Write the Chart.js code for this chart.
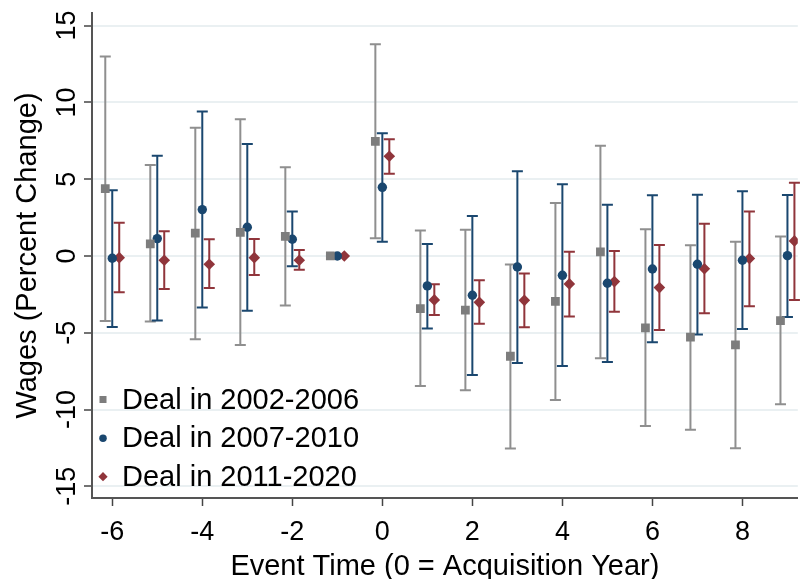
<!DOCTYPE html>
<html>
<head>
<meta charset="utf-8">
<script src="https://cdn.jsdelivr.net/npm/chart.js@4.4.1/dist/chart.umd.min.js"></script>
<style>
  html, body { margin: 0; padding: 0; background: #ffffff; }
  canvas { display: block; }
</style>
</head>
<body>
<canvas id="chart" width="804" height="579"></canvas>
<script>
// Event-study estimates of wage changes around the acquisition year, by deal cohort.
const eventTime = [-6, -5, -4, -3, -2, -1, 0, 1, 2, 3, 4, 5, 6, 7, 8, 9];
const xTickValues = [-6, -4, -2, 0, 2, 4, 6, 8];
const yTickValues = [-15, -10, -5, 0, 5, 10, 15];
const seriesNames = ['Deal in 2002-2006', 'Deal in 2007-2010', 'Deal in 2011-2020'];

// Deals in 2002-2006: point estimate, lower and upper confidence bound
const est2002 = [4.38, 0.78, 1.48, 1.54, 1.28, 0, 7.46, -3.43, -3.52, -6.53, -2.95, 0.26, -4.69, -5.29, -5.79, -4.21];
const lo2002  = [-4.23, -4.27, -5.43, -5.79, -3.23, 0, 1.15, -8.46, -8.75, -12.54, -9.38, -6.66, -11.07, -11.31, -12.52, -9.66];
const hi2002  = [12.98, 5.92, 8.35, 8.90, 5.77, 0, 13.78, 1.65, 1.71, -0.56, 3.45, 7.18, 1.74, 0.70, 0.93, 1.26];

// Deals in 2007-2010
const est2007 = [-0.15, 1.13, 3.02, 1.87, 1.09, 0, 4.47, -1.95, -2.56, -0.72, -1.26, -1.78, -0.85, -0.54, -0.28, 0.02];
const lo2007  = [-4.62, -4.21, -3.36, -3.56, -0.67, 0, 0.93, -4.73, -7.75, -6.97, -7.16, -6.90, -5.62, -5.12, -4.75, -3.97];
const hi2007  = [4.28, 6.53, 9.40, 7.29, 2.89, 0, 7.99, 0.78, 2.60, 5.51, 4.67, 3.34, 3.95, 3.99, 4.21, 3.97];

// Deals in 2011-2020
const est2011 = [-0.11, -0.28, -0.54, -0.11, -0.28, 0, 6.49, -2.86, -3.02, -2.89, -1.82, -1.67, -2.06, -0.83, -0.17, 0.98];
const lo2011  = [-2.37, -2.15, -2.08, -1.24, -0.89, 0, 5.36, -3.84, -4.41, -4.64, -3.95, -3.63, -4.82, -3.73, -3.27, -2.86];
const hi2011  = [2.17, 1.61, 1.09, 1.11, 0.39, 0, 7.60, -1.84, -1.58, -1.15, 0.28, 0.33, 0.72, 2.10, 2.89, 4.77];

const FONT = '"Liberation Sans", Arial, Helvetica, sans-serif';
const AXIS_COLOR = '#555555';
const TICK_COLOR = '#444444';
const DODGE = 0.155;   // horizontal offset between cohorts at each event time

const cohorts = [
  { name: seriesNames[0], est: est2002, lo: lo2002, hi: hi2002, shift: -DODGE,
    marker: '#7d7d7d', bar: '#8f8f8f', style: 'rect', radius: 6.2 },
  { name: seriesNames[1], est: est2007, lo: lo2007, hi: hi2007, shift: 0,
    marker: '#1a476f', bar: '#1a476f', style: 'circle', radius: 4.7 },
  { name: seriesNames[2], est: est2011, lo: lo2011, hi: hi2011, shift: DODGE,
    marker: '#90353b', bar: '#90353b', style: 'rectRot', radius: 5.8 }
];

Chart.defaults.font.family = FONT;
Chart.defaults.color = '#000000';

// Confidence intervals with end caps, drawn under the markers.
const errorBars = {
  id: 'errorBars',
  beforeDatasetsDraw(chart) {
    const { ctx, scales: { x, y } } = chart;
    ctx.save();
    ctx.lineWidth = 2;
    ctx.lineCap = 'butt';
    chart.data.datasets.forEach(ds => {
      ctx.strokeStyle = ds.barColor;
      ds.data.forEach(p => {
        if (p.lo === p.hi) return;
        const px = x.getPixelForValue(p.x);
        const yl = y.getPixelForValue(p.lo);
        const yh = y.getPixelForValue(p.hi);
        const cap = 5.5;
        ctx.beginPath();
        ctx.moveTo(px, yl); ctx.lineTo(px, yh);
        ctx.moveTo(px - cap, yl); ctx.lineTo(px + cap, yl);
        ctx.moveTo(px - cap, yh); ctx.lineTo(px + cap, yh);
        ctx.stroke();
      });
    });
    ctx.restore();
  }
};

function drawMarker(ctx, style, r, cx, cy) {
  ctx.beginPath();
  if (style === 'rect') {
    const h = r * Math.SQRT1_2;
    ctx.rect(cx - h, cy - h, 2 * h, 2 * h);
  } else if (style === 'rectRot') {
    ctx.moveTo(cx - r, cy); ctx.lineTo(cx, cy - r);
    ctx.lineTo(cx + r, cy); ctx.lineTo(cx, cy + r);
    ctx.closePath();
  } else {
    ctx.arc(cx, cy, r, 0, Math.PI * 2);
  }
  ctx.fill();
}

// Vertical y tick labels and the in-plot legend.
const decorations = {
  id: 'decorations',
  afterDraw(chart) {
    const { ctx, chartArea, scales: { y } } = chart;
    ctx.save();
    ctx.fillStyle = '#000000';
    ctx.font = '27px ' + FONT;
    ctx.textAlign = 'center';
    ctx.textBaseline = 'alphabetic';
    y.ticks.forEach(t => {
      const py = y.getPixelForValue(t.value);
      ctx.save();
      ctx.translate(y.right - 17.5, py);
      ctx.rotate(-Math.PI / 2);
      ctx.fillText(String(t.value), 0, 0);
      ctx.restore();
    });

    // legend, stacked in the lower-left corner of the plot
    const rows = [-98.5, -59.8, -21.3];
    ctx.font = '29px ' + FONT;
    ctx.textAlign = 'left';
    ctx.textBaseline = 'middle';
    cohorts.forEach((c, i) => {
      const cy = chartArea.bottom + rows[i];
      ctx.fillStyle = c.marker;
      drawMarker(ctx, c.style, c.radius * 0.8, chartArea.left + 11, cy);
      ctx.fillStyle = '#000000';
      ctx.fillText(c.name, chartArea.left + 30, cy + 1);
    });
    ctx.restore();
  }
};

const datasets = cohorts.map(c => ({
  type: 'scatter',
  label: c.name,
  data: eventTime.map((t, i) => ({ x: t + c.shift, y: c.est[i], lo: c.lo[i], hi: c.hi[i] })),
  pointStyle: c.style,
  pointRadius: c.radius,
  pointHoverRadius: c.radius,
  pointBackgroundColor: c.marker,
  pointBorderWidth: 0,
  showLine: false,
  barColor: c.bar
}));

new Chart(document.getElementById('chart'), {
  type: 'scatter',
  data: { datasets },
  plugins: [errorBars, decorations],
  options: {
    responsive: false,
    animation: false,
    devicePixelRatio: 1,
    layout: { padding: { top: 13, left: 0, right: 0, bottom: 0 } },
    plugins: { legend: { display: false }, tooltip: { enabled: false } },
    scales: {
      x: {
        type: 'linear',
        min: -6.45,
        max: 9.23,
        afterBuildTicks: s => { s.ticks = xTickValues.map(v => ({ value: v })); },
        ticks: {
          font: { size: 27, lineHeight: 1 },
          color: '#000000',
          padding: 13,
          maxRotation: 0,
          autoSkip: false,
          callback: v => String(v)
        },
        grid: { drawOnChartArea: false, drawTicks: true, tickLength: 8, tickColor: TICK_COLOR, tickWidth: 1.5 },
        border: { display: true, color: AXIS_COLOR, width: 2 },
        title: {
          display: true,
          text: 'Event Time (0 = Acquisition Year)',
          color: '#000000',
          font: { size: 29, lineHeight: 1 },
          padding: { top: -7, bottom: -2 }
        }
      },
      y: {
        type: 'linear',
        min: -15.76,
        max: 15.82,
        afterBuildTicks: s => { s.ticks = yTickValues.map(v => ({ value: v })); },
        ticks: { display: false },
        grid: { color: '#eaf0f2', lineWidth: 2, drawTicks: true, tickLength: 8, tickColor: TICK_COLOR, tickWidth: 1.5 },
        border: { display: true, color: AXIS_COLOR, width: 2 },
        title: {
          display: true,
          text: 'Wages (Percent Change)',
          color: '#000000',
          font: { size: 29, lineHeight: 1 },
          padding: { top: 13.5, bottom: 41.5 }
        }
      }
    }
  }
});
</script>
</body>
</html>
